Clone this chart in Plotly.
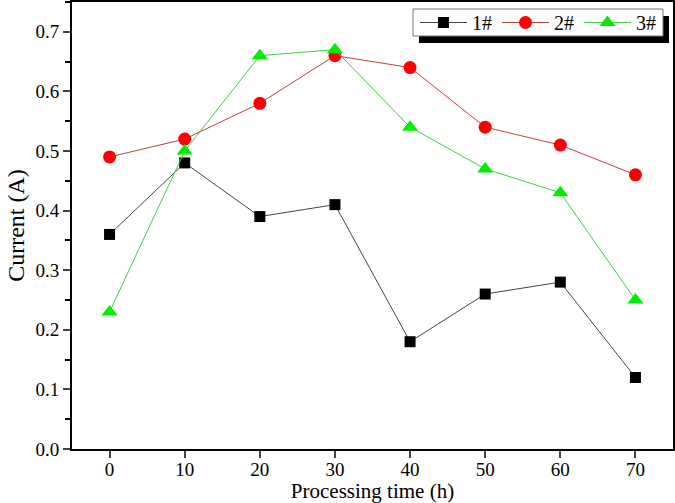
import plotly.graph_objects as go

time_h = [0, 10, 20, 30, 40, 50, 60, 70]
s1 = [0.36, 0.48, 0.39, 0.41, 0.18, 0.26, 0.28, 0.12]
s2 = [0.49, 0.52, 0.58, 0.66, 0.64, 0.54, 0.51, 0.46]
s3 = [0.23, 0.50, 0.66, 0.67, 0.54, 0.47, 0.43, 0.25]
y_ticks = [0, 0.1, 0.2, 0.3, 0.4, 0.5, 0.6, 0.7]
names = ["1#", "2#", "3#"]

W, H = 675, 503
ml, mr, mt, mb = 72, 2, 2, 54
pw, ph = W - ml - mr, H - mt - mb

def px(x):
    return (x - ml) / pw

def py(y):
    return (H - mb - y) / ph

fig = go.Figure()
fig.add_trace(go.Scatter(x=time_h, y=s1, name=names[0], mode="lines+markers",
                         line=dict(color="#444444", width=1),
                         marker=dict(symbol="square", size=11, color="black")))
fig.add_trace(go.Scatter(x=time_h, y=s2, name=names[1], mode="lines+markers",
                         line=dict(color="#c04040", width=1),
                         marker=dict(symbol="circle", size=13, color="#ff0000")))
fig.add_trace(go.Scatter(x=time_h, y=s3, name=names[2], mode="lines+markers",
                         line=dict(color="#40d040", width=1),
                         marker=dict(symbol="triangle-up", size=14, color="#00ee00")))

font = "Liberation Serif, Times New Roman, serif"
fig.update_layout(
    width=W, height=H,
    margin=dict(l=ml, r=mr, t=mt, b=mb, autoexpand=False),
    paper_bgcolor="white", plot_bgcolor="white",
    font=dict(family=font, size=19, color="black"),
    showlegend=True,
    legend=dict(orientation="h", x=px(538), y=py(22.5), xanchor="center", yanchor="middle",
                bgcolor="rgba(0,0,0,0)", borderwidth=0,
                font=dict(size=20, family=font), itemwidth=47, tracegroupgap=0),
    xaxis=dict(range=[-5, 75], tickvals=time_h, ticks="outside", ticklen=7, tickwidth=1.5,
               showline=True, linecolor="black", linewidth=2, mirror=True,
               showgrid=False, zeroline=False, automargin=False,
               ticklabelstandoff=-5,
               title=dict(text="Processing time (h)", standoff=0, font=dict(size=21)),
               tickfont=dict(size=19)),
    yaxis=dict(range=[0, 0.75], tickvals=y_ticks,
               tickformat=".1f", ticks="outside", ticklen=7, tickwidth=1.5,
               minor=dict(dtick=0.05, ticks="outside", ticklen=5, tickwidth=1.5, tickcolor="black"),
               showline=True, linecolor="black", linewidth=2, mirror=True,
               showgrid=False, zeroline=False, automargin=False,
               title=dict(text="Current (A)", standoff=4, font=dict(size=24)),
               tickfont=dict(size=19)),
)

# legend frame with drop shadow
fig.add_shape(type="rect", xref="paper", yref="paper",
              x0=px(419), x1=px(669), y0=py(43), y1=py(16),
              fillcolor="black", line=dict(width=0), layer="above")
fig.add_shape(type="rect", xref="paper", yref="paper",
              x0=px(413), x1=px(663), y0=py(36), y1=py(9),
              fillcolor="white", line=dict(width=1, color="#777777"), layer="above")

fig.write_html("out.html", config={"displayModeBar": False},
               post_script="document.body.style.margin='0';")
